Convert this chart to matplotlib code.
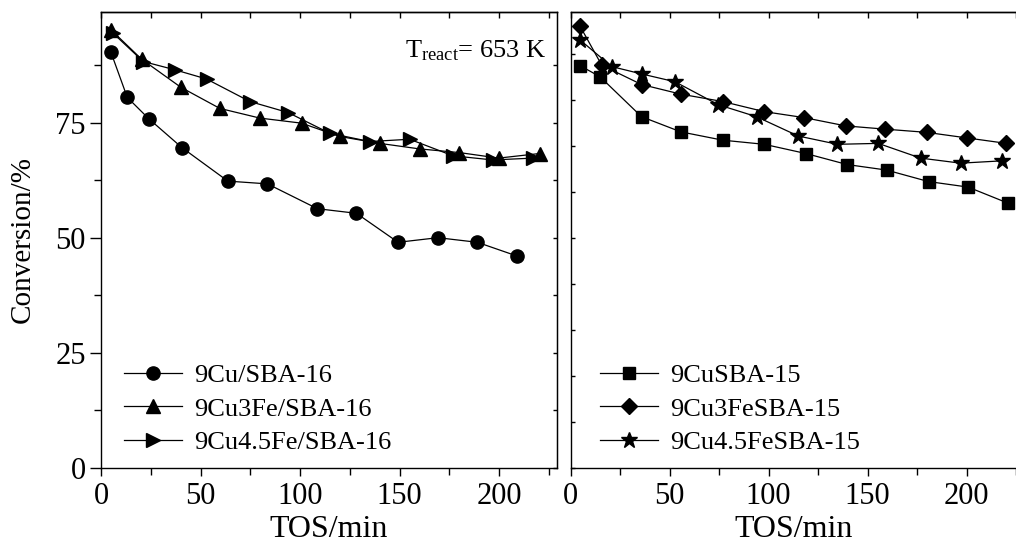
# Conversion vs TOS for Cu and CuFe catalysts on SBA-16 / SBA-15

import matplotlib
matplotlib.use('Agg')
from matplotlib import pyplot as plt
from matplotlib.ticker import MultipleLocator, NullFormatter

plt.rcParams['font.family'] = 'Liberation Serif'
plt.rcParams['mathtext.fontset'] = 'custom'
plt.rcParams['mathtext.rm'] = 'Liberation Serif'

# left panel (SBA-16)
cu16_x = [5, 13.2, 23.9, 40.6, 63.7, 83.6, 108.7, 128.3, 149.2, 169.2, 189, 209]
cu16_y = [90.3, 80.5, 75.9, 69.6, 62.3, 61.7, 56.3, 55.3, 49.0, 50.0, 49.0, 46.0]
cu3fe16_x = [5, 20.4, 40.1, 59.7, 79.8, 100.7, 119.9, 140, 160, 180, 199.7, 220.3]
cu3fe16_y = [95.2, 88.8, 82.7, 78.1, 76.0, 74.9, 72.0, 70.5, 69.3, 68.5, 67.3, 68.3]
cu45fe16_x = [6.2, 21.2, 37.1, 53, 74.8, 94, 114.9, 135, 155, 176.8, 196.8, 217]
cu45fe16_y = [94.4, 88.3, 86.5, 84.5, 79.6, 77.2, 72.7, 70.9, 71.4, 67.8, 66.9, 67.3]

# right panel (SBA-15)
cu15_x = [4.7, 14.8, 35.8, 55.7, 76.8, 97.8, 118.8, 139.7, 159.6, 180.8, 200.8, 221]
cu15_y = [87.4, 85.0, 76.3, 73.0, 71.2, 70.3, 68.3, 65.9, 64.7, 62.2, 61.0, 57.5]
cu3fe15_x = [4.7, 15.7, 35.8, 55.7, 76.8, 97.8, 118, 139, 158.7, 179.8, 200, 220.2]
cu3fe15_y = [96.0, 87.5, 83.3, 81.2, 79.6, 77.4, 76.1, 74.3, 73.6, 72.9, 71.7, 70.5]
cu45fe15_x = [4.7, 20.7, 35.8, 52.7, 74.6, 93.9, 115, 134.8, 155.4, 176.8, 197, 217.7]
cu45fe15_y = [93.0, 87.2, 85.6, 83.9, 78.9, 76.3, 72.1, 70.3, 70.5, 67.3, 66.2, 66.7]

fig = plt.figure(figsize=(10.16, 5.51), dpi=100)
ax1 = fig.add_axes([0.0994, 0.1512, 0.4488, 0.8265])
ax2 = fig.add_axes([0.5617, 0.1512, 0.4383, 0.8265])

lw = 0.9
ax1.plot(cu16_x, cu16_y, 'k-', marker='o', ms=9.5, lw=lw, label='9Cu/SBA-16')
ax1.plot(cu3fe16_x, cu3fe16_y, 'k-', marker='^', ms=10.5, lw=lw, label='9Cu3Fe/SBA-16')
ax1.plot(cu45fe16_x, cu45fe16_y, 'k-', marker='>', ms=10.5, lw=lw, label='9Cu4.5Fe/SBA-16')

ax2.plot(cu15_x, cu15_y, 'k-', marker='s', ms=8, lw=lw, label='9CuSBA-15')
ax2.plot(cu3fe15_x, cu3fe15_y, 'k-', marker='D', ms=8.5, lw=lw, label='9Cu3FeSBA-15')
ax2.plot(cu45fe15_x, cu45fe15_y, 'k-', marker='*', ms=12, lw=lw, label='9Cu4.5FeSBA-15')

ax1.set_xlim(0, 229)
ax2.set_xlim(0, 225)
for ax in (ax1, ax2):
    ax.set_ylim(0, 99)
    ax.xaxis.set_major_locator(MultipleLocator(50))
    ax.xaxis.set_minor_locator(MultipleLocator(25))
    ax.tick_params(axis='x', which='major', direction='out', length=6, width=1,
                   labelsize=22, pad=4, top=False)
    ax.tick_params(axis='x', which='minor', direction='out', length=5, width=1, top=False)
    ax.set_xlabel('TOS/min', fontsize=23, labelpad=3)
    top = ax.secondary_xaxis('top')
    top.xaxis.set_major_locator(MultipleLocator(25))
    top.tick_params(direction='in', length=4, width=1, labelsize=0)
    top.xaxis.set_major_formatter(NullFormatter())
    for s in ax.spines.values():
        s.set_linewidth(1)
    top.spines['top'].set_linewidth(1)

ax1.yaxis.set_major_locator(MultipleLocator(25))
ax1.yaxis.set_minor_locator(MultipleLocator(12.5))
ax1.tick_params(axis='y', which='major', direction='out', length=8, width=1,
                labelsize=22, pad=3, right=False)
ax1.tick_params(axis='y', which='minor', direction='out', length=5, width=1, right=False)
ax1.set_ylabel('Conversion/%', fontsize=21, labelpad=14)
rgt = ax1.secondary_yaxis('right')
rgt.yaxis.set_major_locator(MultipleLocator(12.5))
rgt.yaxis.set_major_formatter(NullFormatter())
rgt.tick_params(direction='in', length=3, width=1)

ax2.spines['right'].set_visible(False)
ax2.yaxis.set_major_locator(MultipleLocator(10))
ax2.yaxis.set_major_formatter(NullFormatter())
ax2.tick_params(axis='y', which='major', direction='in', length=3, width=1, right=False)

ax1.text(0.667, 0.902, r'$\mathrm{T_{react}}$= 653 K', transform=ax1.transAxes,
         fontsize=19, ha='left', va='baseline')

leg_kw = dict(frameon=False, fontsize=19, loc='lower left', borderpad=0,
              borderaxespad=0, handlelength=2.2, handletextpad=0.45,
              labelspacing=0.38)
ax1.legend(bbox_to_anchor=(0.05, 0.03), **leg_kw)
ax2.legend(bbox_to_anchor=(0.066, 0.03), **leg_kw)

fig.savefig('out.png', dpi=100)
